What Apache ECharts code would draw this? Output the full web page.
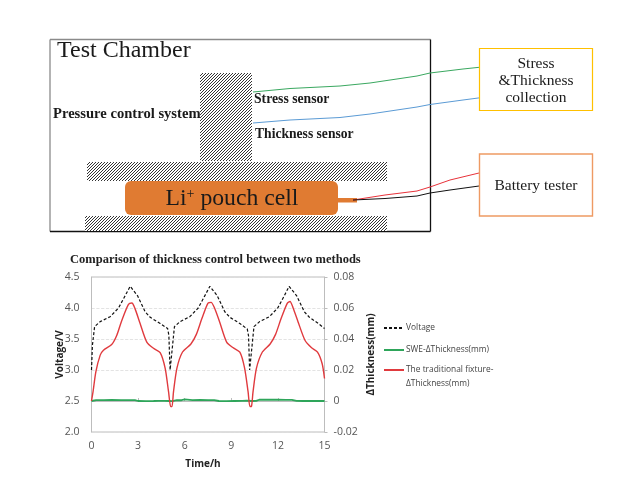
<!DOCTYPE html>
<html><head><meta charset="utf-8">
<style>html,body{margin:0;padding:0;background:#fff}#c{width:632px;height:488px}</style>
<script src="https://cdn.jsdelivr.net/npm/echarts@6/dist/echarts.min.js"></script>
</head><body><div id="c"></div>
<script>
const chartTitle = 'Comparison of thickness control between two methods';
const voltageName = 'Voltage';
const sweName = 'SWE-ΔThickness(mm)';
const fixtureName = 'The traditional fixture-\nΔThickness(mm)';
const voltageTime = [0,.06,.2,.56,1.2,1.74,2.17,2.49,2.6,2.96,3.45,3.78,4.42,4.9,4.98,5.06,5.13,5.24,5.34,5.7,6.33,6.87,7.3,7.62,7.72,8.09,8.58,8.91,9.55,10.03,10.11,10.18,10.25,10.36,10.46,10.82,11.45,11.99,12.42,12.72,12.84,13.2,13.7,14.03,14.6,15];
const voltage =     [3.0,3.4,3.7,3.78,3.86,4.0,4.2,4.35,4.35,4.2,3.94,3.85,3.75,3.67,3.56,3.0,3.0,3.45,3.7,3.78,3.86,4.0,4.2,4.35,4.35,4.2,3.94,3.85,3.75,3.66,3.55,3.0,3.0,3.45,3.7,3.78,3.86,4.0,4.2,4.35,4.35,4.2,3.94,3.85,3.75,3.67];
const fixtureTime = [0,.1,.28,.56,.77,1.3,1.63,1.95,2.38,2.6,2.8,3.13,3.56,3.99,4.42,4.74,4.96,5.1,5.18,5.28,5.5,5.86,6.4,6.75,7.1,7.5,7.7,7.92,8.25,8.7,9.1,9.55,9.85,10.08,10.2,10.3,10.4,10.62,11,11.5,11.85,12.2,12.6,12.78,12.98,13.3,13.75,14.15,14.55,14.85,15];
const fixture =     [0,.006,.0188,.0296,.0328,.0364,.0424,.052,.0624,.0632,.0596,.05,.038,.034,.0312,.0212,.006,-.0036,-.0036,.006,.0212,.0316,.0368,.043,.053,.0632,.0636,.06,.051,.038,.0345,.0315,.0215,.006,-.0036,-.0034,.006,.0212,.0316,.0368,.043,.053,.063,.0642,.06,.051,.039,.0345,.0315,.024,.0145];
const sweTime = [0,.3,.8,1.3,1.9,2.5,2.8,3,3.5,4,4.3,4.7,5,5.2,5.5,5.8,6,6.5,7,7.5,7.9,8.2,8.7,9.2,9.7,10,10.3,10.6,10.8,11.3,11.4,12,12.5,12.9,13.2,13.6,14,14.5,15];
const swe =     [0,.0006,.0006,.0007,.0006,.0006,.0005,0,-.0001,0,.0001,.0001,0,-.0001,.0005,.0005,.001,.0006,.0007,.0006,.0005,0,-.0001,0,.0001,.0002,0,.0001,.0008,.0008,.0012,.0008,.0007,.0007,.0001,0,.0001,0,0];
const yLeftName = 'Voltage/V', yRightName = 'ΔThickness(mm)', xName = 'Time/h';
const pair = (t, v) => t.map((x, i) => [x, v[i]]);

const hatch = document.createElement('canvas');
hatch.width = hatch.height = 3;
const hc = hatch.getContext('2d');
hc.fillStyle = '#fff'; hc.fillRect(0, 0, 3, 3);
hc.strokeStyle = '#333'; hc.lineWidth = 1;
[[-1,4,4,-1],[-1,1,1,-1],[2,4,4,2]].forEach(l => { hc.beginPath(); hc.moveTo(l[0],l[1]); hc.lineTo(l[2],l[3]); hc.stroke(); });
const hatchFill = { image: hatch, repeat: 'repeat' };
const serif = '"Liberation Serif"';
const rect = (x, y, w, h, style, r) => ({ type: 'rect', shape: { x, y, width: w, height: h, r: r || 0 }, style, silent: true });
const wire = (points, stroke) => ({ type: 'polyline', shape: { points }, style: { stroke, lineWidth: 1, fill: null }, silent: true });
const label = (x, y, text, size, opt) => ({ type: 'text', x, y: y + 1, silent: true, style: Object.assign({ text, font: size + 'px ' + serif, fill: '#1a1a1a', verticalAlign: 'middle', align: 'left' }, opt || {}) });
const seg = (a, b, c) => ({ type: 'line', shape: { x1: a[0], y1: a[1], x2: b[0], y2: b[1] }, style: { stroke: c, lineWidth: 1.3 }, silent: true });

const graphics = [
  seg([50,39.5],[430.5,39.5],'#8a8a8a'), seg([50,39.5],[50,231.5],'#8a8a8a'),
  seg([430.5,39.5],[430.5,231.5],'#111'), seg([50,231.5],[430.5,231.5],'#111'),
  rect(200,73,52,88,{fill:hatchFill}), rect(87,162,300,19,{fill:hatchFill}), rect(85,216,302,15,{fill:hatchFill}),
  rect(125,181,213,34,{fill:'#E07B32'},6), rect(338,198,19,4.5,{fill:'#E07B32'}),
  wire([[253,92],[290,88.5],[340,86],[370,83],[417,76],[430,73],[463,69],[482,67]],'#3aa860'),
  wire([[253,123],[290,120],[340,117.5],[370,114],[417,107],[430,104.5],[463,100],[482,97.5]],'#5b9bd5'),
  wire([[353,200],[385,195],[417,191],[430,187],[450,180],[479,173]],'#e8323a'),
  wire([[353,200],[385,198.5],[417,196],[430,193],[450,190],[479,186]],'#111'),
  rect(479.5,48.5,113,62,{fill:'#fff',stroke:'#FFC000',lineWidth:1.2}),
  rect(479.5,154,113,62,{fill:'#fff',stroke:'#EE9A63',lineWidth:1.4}),
  label(57,50,'Test Chamber',24),
  label(53,113.5,'Pressure control system',14.6,{font:'bold 14.6px '+serif}),
  label(254,98.5,'Stress sensor',13.7,{font:'bold 13.7px '+serif}),
  label(255,133.5,'Thickness sensor',13.6,{font:'bold 13.6px '+serif}),
  { type:'text', x:232, y:199, silent:true, style:{ text:'{m|Li}{s|+}{m| pouch cell}', align:'center', verticalAlign:'middle',
    rich:{ m:{font:'23.7px '+serif, fill:'#1a1a1a'}, s:{font:'14px '+serif, fill:'#1a1a1a', verticalAlign:'top', padding:[0,0,8,0]} } } },
  label(536,63,'Stress',15.5,{align:'center'}),
  label(536,80,'&Thickness',15.5,{align:'center'}),
  label(536,97,'collection',15.5,{align:'center'}),
  label(536,185,'Battery tester',15.5,{align:'center'})
];

const sans = '"Open Sans"';
const axisLabelStyle = { color:'#555', fontFamily:sans, fontSize:10.5 };
const axisNameStyle = { color:'#222', fontFamily:sans, fontSize:10, fontWeight:'bold' };
const axisLine = { show:true, lineStyle:{ color:'#bdbdbd', width:1 } };
const legendText = { fontFamily:sans, fontSize:8.4, color:'#444', lineHeight:14, padding:[0,0,0,-3] };
const legendBase = { orient:'vertical', left:383, padding:0, itemWidth:20, itemHeight:10, align:'left', itemStyle:{ opacity:0 }, textStyle:legendText };
echarts.init(document.getElementById('c'), null, { renderer:'canvas' }).setOption({
  animation:false, backgroundColor:'#fff',
  title:{ text:chartTitle, left:65, top:248, textStyle:{ fontFamily:serif, fontSize:12.5, fontWeight:'bold', color:'#222' } },
  grid:{ left:91.5, top:277, width:233, height:155, show:true, borderColor:'#bdbdbd', borderWidth:1 },
  legend:[
    Object.assign({}, legendBase, { top:321, itemGap:8, data:[voltageName,sweName] }),
    Object.assign({}, legendBase, { top:349, data:[fixtureName], formatter:n => '\n' + n })
  ],
  xAxis:{ type:'value', min:0, max:15, interval:3, name:xName, nameLocation:'middle', nameGap:27, nameMoveOverlap:false, nameTextStyle:Object.assign({padding:[0,10,0,0]},axisNameStyle),
    axisLine, axisTick:{ show:true, inside:true, length:3, lineStyle:{color:'#bdbdbd'} }, axisLabel:Object.assign({margin:9},axisLabelStyle), splitLine:{show:false} },
  yAxis:[
    { type:'value', min:2, max:4.5, interval:.5, name:yLeftName, nameLocation:'middle', nameGap:31, nameMoveOverlap:false, nameRotate:90, nameTextStyle:Object.assign({lineHeight:1},axisNameStyle),
      axisLine, axisTick:{show:false}, axisLabel:Object.assign({margin:12, formatter:v=>v.toFixed(1)},axisLabelStyle),
      splitLine:{ show:true, lineStyle:{ color:'#dcdcdc', type:'dashed', width:.8 } } },
    { type:'value', min:-.02, max:.08, interval:.02, name:yRightName, nameLocation:'middle', nameGap:42, nameMoveOverlap:false, nameRotate:90, nameTextStyle:axisNameStyle,
      axisLine, axisTick:{ show:true, length:3, lineStyle:{color:'#bdbdbd'} }, axisLabel:Object.assign({margin:9},axisLabelStyle), splitLine:{show:false} }
  ],
  series:[
    { name:voltageName, type:'line', yAxisIndex:0, data:pair(voltageTime,voltage), showSymbol:false, symbol:'none', lineStyle:{ color:'#111', width:1.2, type:[3,2] }, itemStyle:{color:'#111'}, z:3 },
    { name:sweName, type:'line', yAxisIndex:1, data:pair(sweTime,swe), showSymbol:false, symbol:'none', lineStyle:{ color:'#2ea55a', width:1.8 }, itemStyle:{color:'#2ea55a'}, z:4 },
    { name:fixtureName, type:'line', yAxisIndex:1, data:pair(fixtureTime,fixture), showSymbol:false, symbol:'none', smooth:.25, lineStyle:{ color:'#e03a3e', width:1.4 }, itemStyle:{color:'#e03a3e'}, z:5 }
  ],
  graphic:{ elements:graphics }
});
</script></body></html>
